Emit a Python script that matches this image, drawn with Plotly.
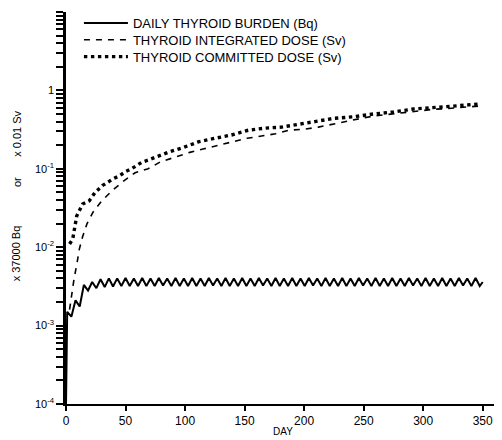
import plotly.graph_objects as go

# ---------------- data ----------------
burden_day = [0, 1, 4.5, 8, 11.5, 15, 18.5, 22, 25.5, 29, 32.5, 36, 39.5, 43, 46.5, 50, 53.5,
              57, 60.5, 64, 67.5, 71, 74.5, 78, 81.5, 85, 88.5, 92, 95.5, 99, 102.5, 106, 109.5,
              113, 116.5, 120, 123.5, 127, 130.5, 134, 137.5, 141, 144.5, 148, 151.5, 155, 158.5,
              162, 165.5, 169, 172.5, 176, 179.5, 183, 186.5, 190, 193.5, 197, 200.5, 204, 207.5,
              211, 214.5, 218, 221.5, 225, 228.5, 232, 235.5, 239, 242.5, 246, 249.5, 253, 256.5,
              260, 263.5, 267, 270.5, 274, 277.5, 281, 284.5, 288, 291.5, 295, 298.5, 302, 305.5,
              309, 312.5, 316, 319.5, 323, 326.5, 330, 333.5, 337, 340.5, 344, 347.5, 350]
burden_val = [1.0e-4, 1.5e-3, 1.3e-3, 2.1e-3, 1.75e-3, 3.3e-3, 2.8e-3, 3.6e-3, 3.0e-3, 3.9e-3, 3.1e-3,
              4.0e-3, 3.15e-3, 4.0e-3, 3.2e-3, 4.05e-3, 3.2e-3, 4.0e-3, 3.2e-3, 4.05e-3, 3.2e-3,
              4.0e-3, 3.2e-3, 4.05e-3, 3.25e-3, 4.0e-3, 3.2e-3, 4.05e-3, 3.2e-3, 4.0e-3, 3.2e-3,
              4.05e-3, 3.2e-3, 4.0e-3, 3.2e-3, 4.05e-3, 3.25e-3, 4.0e-3, 3.2e-3, 4.05e-3, 3.2e-3,
              4.0e-3, 3.2e-3, 4.05e-3, 3.2e-3, 4.0e-3, 3.2e-3, 4.05e-3, 3.25e-3, 4.0e-3, 3.2e-3,
              4.05e-3, 3.2e-3, 4.0e-3, 3.2e-3, 4.05e-3, 3.2e-3, 4.0e-3, 3.2e-3, 4.05e-3, 3.25e-3,
              4.0e-3, 3.2e-3, 4.05e-3, 3.2e-3, 4.0e-3, 3.2e-3, 4.05e-3, 3.2e-3, 4.0e-3, 3.2e-3,
              4.05e-3, 3.25e-3, 4.0e-3, 3.2e-3, 4.05e-3, 3.2e-3, 4.0e-3, 3.2e-3, 4.05e-3, 3.2e-3,
              4.0e-3, 3.2e-3, 4.05e-3, 3.25e-3, 4.0e-3, 3.2e-3, 4.05e-3, 3.2e-3, 4.0e-3, 3.2e-3,
              4.05e-3, 3.2e-3, 4.0e-3, 3.2e-3, 4.05e-3, 3.25e-3, 4.0e-3, 3.2e-3, 4.05e-3, 3.2e-3,
              3.6e-3]

integrated_day = [3, 5, 6.7, 9.3, 11, 14, 17.7, 22.7, 30, 39, 48, 58, 69, 79, 92, 104, 116, 128,
                  140, 152, 163, 176, 187, 200, 212, 225, 233, 248, 258, 273, 283, 296, 309, 319,
                  332, 346]
integrated_val = [1.6e-3, 2.66e-3, 3.9e-3, 6.3e-3, 9.2e-3, 1.37e-2, 2.0e-2, 2.8e-2, 3.9e-2, 5.3e-2,
                  6.9e-2, 8.9e-2, 0.10, 0.122, 0.141, 0.162, 0.18, 0.20, 0.22, 0.245, 0.26, 0.28,
                  0.31, 0.32, 0.34, 0.375, 0.40, 0.44, 0.47, 0.50, 0.52, 0.55, 0.575, 0.585, 0.61,
                  0.63]

committed_day = [3, 5.6, 9, 14, 19.5, 24.5, 30.5, 34.5, 40, 45, 50, 55, 60, 64, 69, 75, 87, 99,
                 111, 125, 139, 153, 167, 181, 196, 209, 225, 241, 258, 275, 292, 308, 325, 346]
committed_val = [1.1e-2, 1.26e-2, 2.5e-2, 3.55e-2, 3.9e-2, 5.0e-2, 6.1e-2, 6.7e-2, 7.5e-2, 8.15e-2,
                 9.2e-2, 0.10, 0.112, 0.122, 0.129, 0.141, 0.165, 0.188, 0.22, 0.245, 0.27, 0.31,
                 0.33, 0.34, 0.375, 0.40, 0.44, 0.46, 0.50, 0.53, 0.58, 0.60, 0.63, 0.67]

x_ticks = [0, 50, 100, 150, 200, 250, 300, 350]
y_decades = [1e-4, 1e-3, 1e-2, 1e-1, 1, 10]
y_decade_text = ["10<sup>-4</sup>", "10<sup>-3</sup>", "10<sup>-2</sup>", "10<sup>-1</sup>", "1", "10"]

names = ["DAILY THYROID BURDEN (Bq)", "THYROID INTEGRATED DOSE (Sv)", "THYROID COMMITTED DOSE (Sv)"]

FONT = "Liberation Sans Narrow, Arial Narrow, Liberation Sans, Arial, sans-serif"

# log-axis tick positions: decades labelled, 2..9 sub-ticks unlabelled
y_tickvals, y_ticktext = [], []
for d, t in zip(y_decades, y_decade_text):
    y_tickvals.append(d)
    y_ticktext.append(t)
    if d < 10:
        for m in range(2, 10):
            y_tickvals.append(m * d)
            y_ticktext.append("")

fig = go.Figure()
fig.add_trace(go.Scatter(x=burden_day, y=burden_val, mode="lines", name=names[0],
                         legend="legend",
                         line=dict(color="black", width=2)))
fig.add_trace(go.Scatter(x=integrated_day, y=integrated_val, mode="lines", name=names[1],
                         legend="legend2",
                         line=dict(color="black", width=1.6, dash="6px,6px")))
fig.add_trace(go.Scatter(x=committed_day, y=committed_val, mode="lines", name=names[2],
                         legend="legend3",
                         line=dict(color="black", width=3.4, dash="3.4px,3.6px")))

leg_common = dict(x=0.030, xanchor="left", yanchor="middle", bgcolor="rgba(0,0,0,0)",
                  font=dict(family=FONT, size=13, color="black"), itemwidth=44)

fig.update_layout(
    width=494, height=432,
    margin=dict(l=58, r=5, t=0, b=36),
    paper_bgcolor="white", plot_bgcolor="white",
    font=dict(family=FONT, color="black", size=11),
    showlegend=True,
    legend=dict(y=0.972, **leg_common),
    legend2=dict(y=0.929, **leg_common),
    legend3=dict(y=0.886, **leg_common),
    xaxis=dict(range=[0, 362], tickmode="array", tickvals=x_ticks, showgrid=False, zeroline=False,
               automargin=False,
               showline=True, linecolor="black", linewidth=2,
               ticks="outside", ticklen=5, tickwidth=2, tickcolor="#000000",
               tickfont=dict(family=FONT, size=12)),
    yaxis=dict(type="log", range=[-4, 1], tickmode="array", tickvals=y_tickvals,
               ticktext=y_ticktext,
               automargin=False,
               showgrid=False, zeroline=False, showline=True, linecolor="black", linewidth=2.5,
               ticks="outside", ticklen=7, tickwidth=2, tickcolor="#000000",
               tickfont=dict(family=FONT, size=11)),
    annotations=[
        dict(text="DAY", x=0.503, y=-0.0707, xref="paper", yref="paper", showarrow=False,
             xanchor="center", yanchor="middle", font=dict(family=FONT, size=10)),
        dict(text="x 0.01 Sv", x=-0.114, y=0.689, xref="paper", yref="paper", showarrow=False,
             xanchor="center", yanchor="middle",
             textangle=-90, font=dict(family=FONT, size=11)),
        dict(text="or", x=-0.114, y=0.566, xref="paper", yref="paper", showarrow=False,
             xanchor="center", yanchor="middle",
             textangle=-90, font=dict(family=FONT, size=11)),
        dict(text="x 37000 Bq", x=-0.114, y=0.384, xref="paper", yref="paper", showarrow=False,
             xanchor="center", yanchor="middle",
             textangle=-90, font=dict(family=FONT, size=11)),
    ],
)

fig.write_html("out.html")
